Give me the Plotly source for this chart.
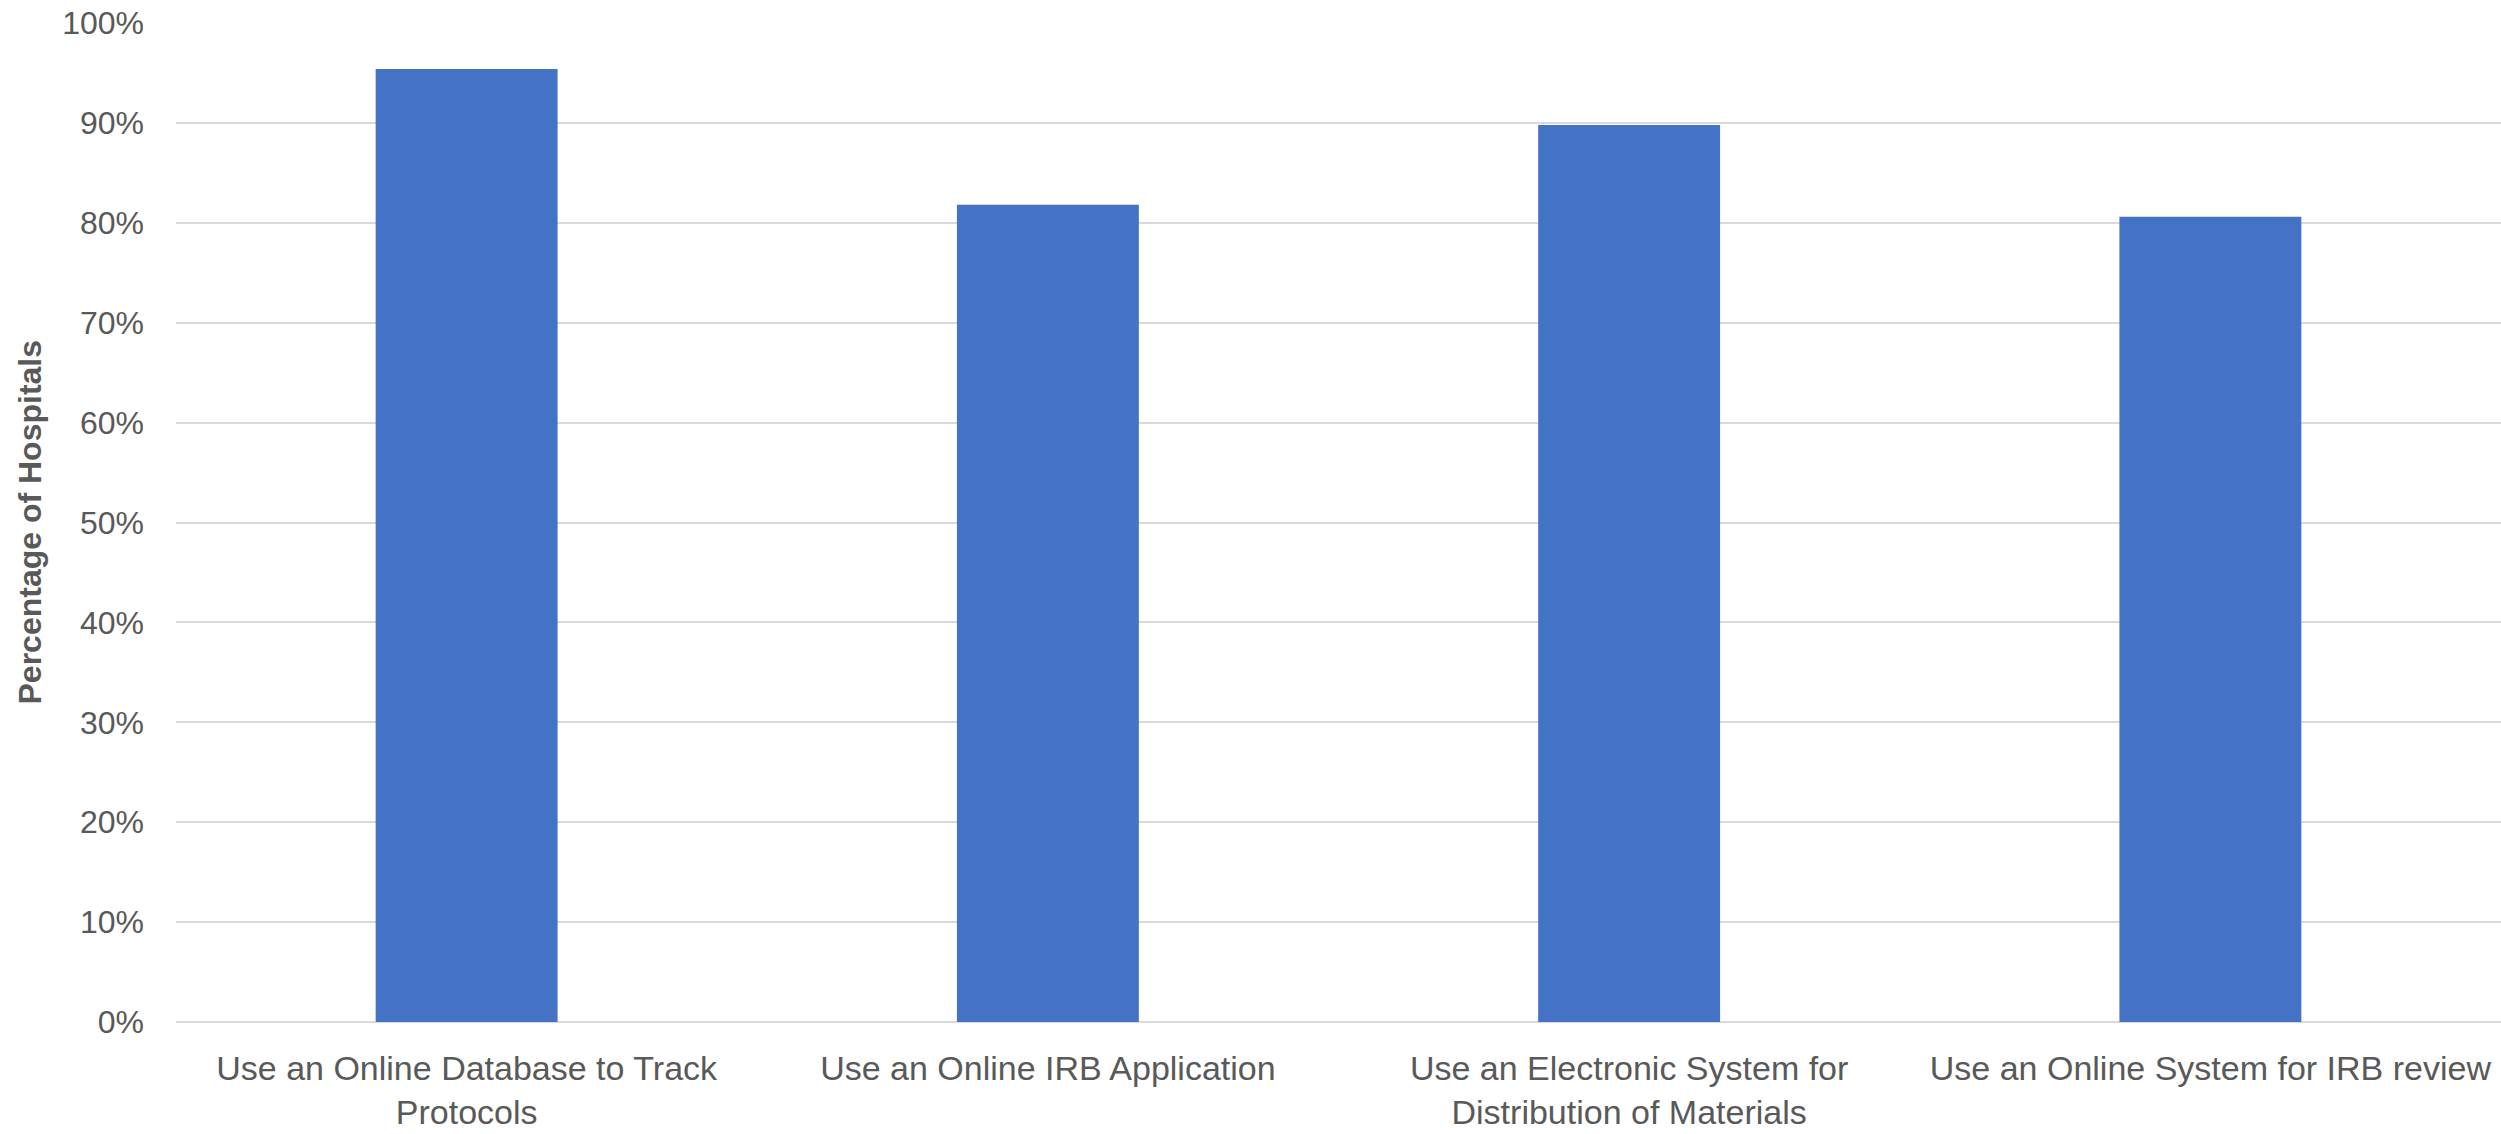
import plotly.graph_objects as go

categories = [
    "Use an Online Database to Track<br>Protocols",
    "Use an Online IRB Application",
    "Use an Electronic System for<br>Distribution of Materials",
    "Use an Online System for IRB review",
]
values = [0.954, 0.818, 0.898, 0.806]
y_ticks = [0, 0.1, 0.2, 0.3, 0.4, 0.5, 0.6, 0.7, 0.8, 0.9, 1.0]
y_title = "Percentage of Hospitals"

W, H = 2501, 1134
ML, MR, MT, MB = 176, 0, 23, 112
FONT = "Liberation Sans, Arial, sans-serif"
GREY = "#595959"
GRID = "#d9d9d9"

fig = go.Figure(
    go.Bar(
        x=categories,
        y=values,
        marker=dict(color="#4472C4", line=dict(width=0)),
    )
)

fig.update_layout(
    width=W,
    height=H,
    margin=dict(l=ML, r=MR, t=MT, b=MB, pad=0),
    paper_bgcolor="white",
    plot_bgcolor="white",
    bargap=0.687,
    showlegend=False,
    font=dict(family=FONT, color=GREY),
)

fig.update_xaxes(
    showline=False,
    showgrid=False,
    ticks="",
    tickfont=dict(size=34, color=GREY, family=FONT),
    ticklabelstandoff=23,
    automargin=False,
)

fig.update_yaxes(
    range=[0, 1.0],
    tickvals=y_ticks,
    tickformat=".0%",
    showgrid=True,
    gridcolor=GRID,
    gridwidth=2,
    zeroline=True,
    zerolinecolor=GRID,
    zerolinewidth=2,
    showline=False,
    ticks="",
    tickfont=dict(size=32, color=GREY, family=FONT),
    ticklabelstandoff=31,
    automargin=False,
)

fig.add_annotation(
    text="<b>" + y_title + "</b>",
    xref="paper",
    yref="paper",
    x=-(ML - 29) / (W - ML - MR),
    y=0.5,
    xanchor="center",
    yanchor="middle",
    textangle=-90,
    showarrow=False,
    font=dict(size=32, color=GREY, family=FONT),
)

fig.write_html(
    "out.html",
    config={"displayModeBar": False},
    post_script="document.body.style.margin='0';document.body.style.overflow='hidden';",
)
